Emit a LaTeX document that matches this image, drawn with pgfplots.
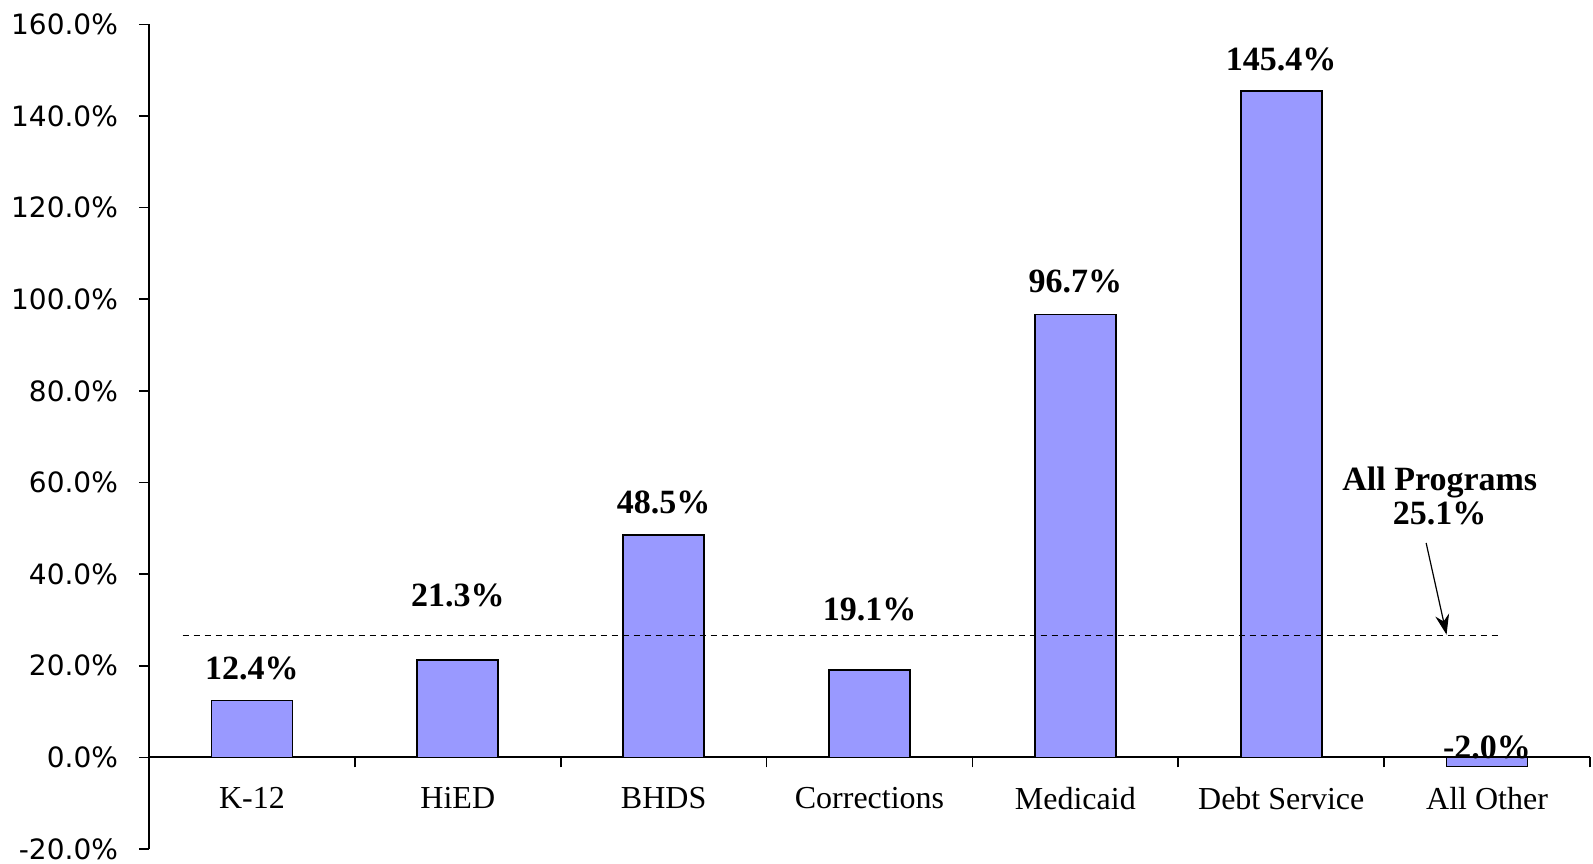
\documentclass[border=0pt]{standalone}
\usepackage{fontspec}
\setmainfont{Liberation Serif}
\newfontfamily\tickfont{DejaVu Sans}
\usepackage{pgfplots}
\pgfplotsset{compat=1.18}
\usetikzlibrary{arrows.meta}
\definecolor{barblue}{HTML}{9999FF}

\begin{document}
\begin{tikzpicture}
\useasboundingbox (-74.5pt,-7pt) rectangle (722pt,424.5pt);
\begin{axis}[
  at={(0,0)}, anchor=south west,
  scale only axis, width=720.5pt, height=412.3pt,
  xmin=-0.5, xmax=6.5, ymin=-20, ymax=160,
  axis x line*=middle, axis y line*=left,
  hide obscured x ticks=false, hide obscured y ticks=false,
  axis line style={line width=1pt},
  xtick={-0.5,0.5,1.5,2.5,3.5,4.5,5.5,6.5},
  x tick label as interval,
  xticklabels={K-12,HiED,BHDS,Corrections,Medicaid,Debt Service,All Other},
  xticklabel style={font=\fontsize{16}{18}\selectfont, yshift=-6.5pt},
  ytick={-20,0,20,40,60,80,100,120,140,160},
  yticklabel={\pgfmathprintnumber[fixed,fixed zerofill,precision=1]{\tick}\%},
  yticklabel style={font=\tickfont\fontsize{14}{16}\selectfont, xshift=-7pt},
  /pgf/number format/assume math mode=true,
  tick align=outside, major tick length=5pt,
  tick style={line width=0.8pt, black},
  clip=false,
]
\addplot[ybar, bar width=40.5pt, fill=barblue, draw=black, line width=0.8pt]
  coordinates {(0,12.4) (1,21.3) (2,48.5) (3,19.1) (4,96.7) (5,145.4) (6,-2.0)};
\addplot[sharp plot, no markers, black, dash pattern=on 3pt off 2.5pt, line width=0.6pt]
  coordinates {(-0.337,26.6) (6.07,26.6)};
\begin{scope}[every node/.style={font=\bfseries\fontsize{17}{20}\selectfont}]
\node at (axis cs:0,19.5) {12.4\%};
\node at (axis cs:1,35.3) {21.3\%};
\node at (axis cs:2,55.7) {48.5\%};
\node at (axis cs:3,32.4) {19.1\%};
\node at (axis cs:4,104.0) {96.7\%};
\node at (axis cs:5,152.3) {145.4\%};
\node at (axis cs:6,2.2) {-2.0\%};
\node[align=center] at (axis cs:5.77,57.1) {All Programs\\[-3pt]25.1\%};
\end{scope}
\draw[-{Stealth[length=10pt,width=7pt]}, line width=0.6pt] (axis cs:5.704,46.8) -- (axis cs:5.803,26.8);
\end{axis}
\end{tikzpicture}
\end{document}
